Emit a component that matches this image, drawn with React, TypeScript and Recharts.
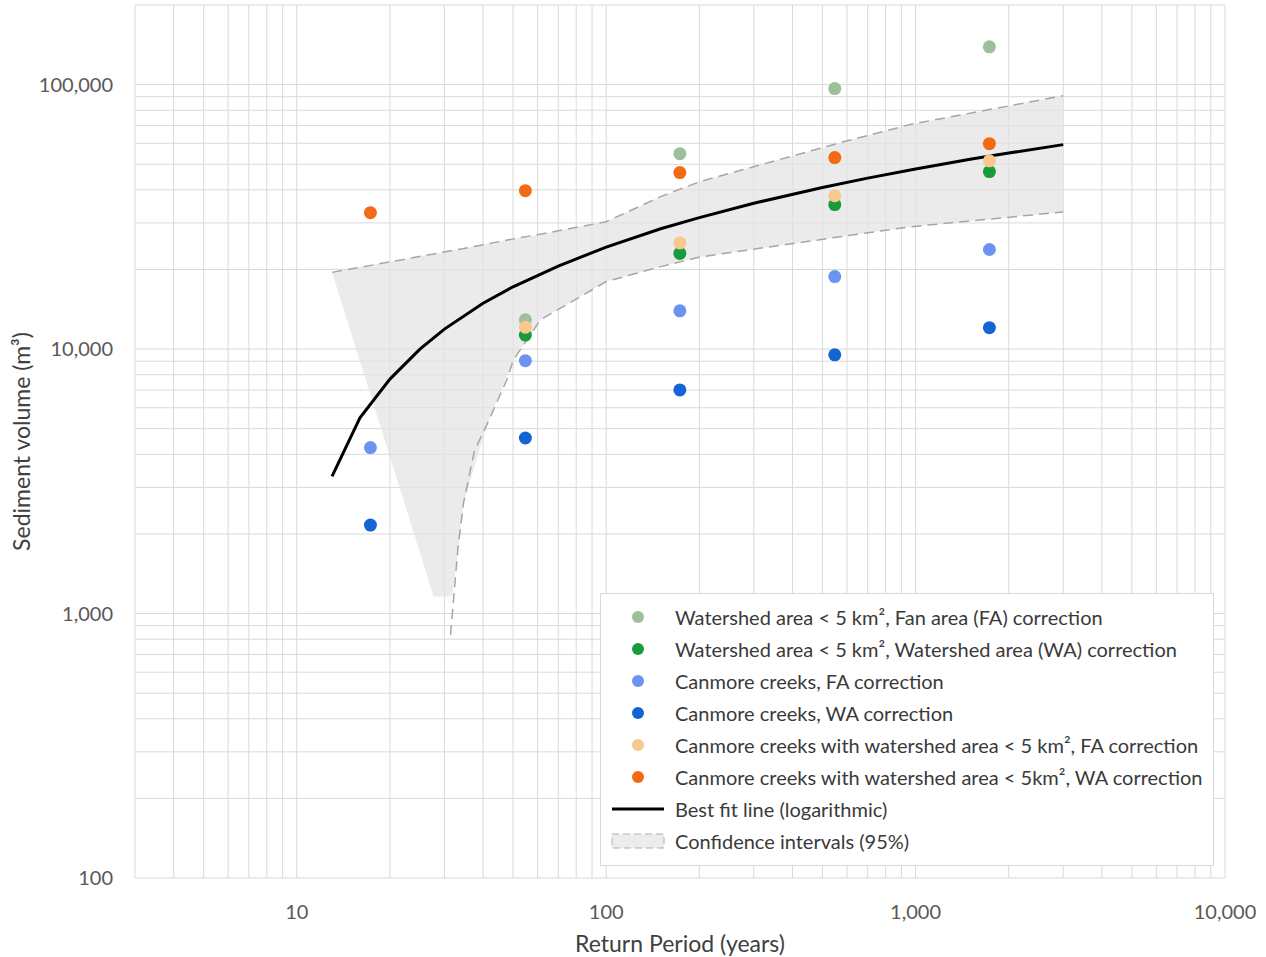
import { ComposedChart, XAxis, YAxis, CartesianGrid, Scatter, Line, Area } from 'recharts';

const FONT = 'Lato, "Open Sans", sans-serif';

// class midpoints of the return period bins (years)
const returnPeriods = [17.3, 54.8, 173, 548, 1732];

// sediment volumes (m³) per series, null where no point is plotted
const smallFanArea = [null, 12900, 54800, 96600, 139000];
const smallWatershedArea = [null, 11300, 23000, 35200, 46900];
const canmoreFanArea = [4240, 9040, 13950, 18800, 23800];
const canmoreWatershedArea = [2160, 4610, 7010, 9510, 12050];
const canmoreSmallFanArea = [null, 12100, 25200, 38000, 51500];
const canmoreSmallWatershedArea = [32800, 39700, 46500, 53000, 59800];

// best fit curve
const fitReturn = [13, 16, 20, 25, 30, 40, 50, 70, 100, 150, 200, 300, 500, 700, 1000, 1500, 2000, 3000];
const fitVolume = [3300, 5500, 7700, 10000, 11900, 14900, 17200, 20600, 24300, 28500, 31400, 35600, 40800, 44300, 48000, 52200, 55100, 59300];

// 95% confidence band
const ciReturn = [13, 27.7, 31.8, 34.6, 41.4, 50.2, 61.3, 100, 150, 201, 571, 961, 3000];
const ciUpper = [19500, 22900, 23600, 24000, 25000, 26100, 27200, 30300, 37700, 43000, 60300, 70700, 90800];
const ciFillLower = [19500, 1160, 1160, 2620, 5260, 9120, 12900, 18000, 20500, 22300, 26600, 29000, 33000];

const ciLowerReturn = [31.4, 33.2, 34.6, 37.5, 41.4, 47.6, 50.2, 61.3, 100, 150, 201, 571, 961, 3000];
const ciLowerVolume = [830, 1780, 2620, 4120, 5260, 7600, 9120, 12900, 18000, 20500, 22300, 26600, 29000, 33000];

const xMajor = [10, 100, 1000, 10000];
const yMajor = [100, 1000, 10000, 100000];

const minorTicks = (start: number, end: number) => {
  const out: number[] = [];
  for (let d = 1; d <= end; d *= 10) {
    for (let m = 1; m <= 9; m++) {
      const v = m * d;
      if (v >= start && v <= end) out.push(v);
    }
  }
  return out;
};
const xTicks = minorTicks(3, 10000);
const yTicks = minorTicks(100, 200000);

const fmt = (majors: number[]) => (v: number) => (majors.includes(v) ? v.toLocaleString('en-US') : '');

const SERIES = [
  { name: 'Watershed area < 5 km², Fan area (FA) correction', values: smallFanArea, color: '#9dbf9a' },
  { name: 'Watershed area < 5 km², Watershed area (WA) correction', values: smallWatershedArea, color: '#1a9a3c' },
  { name: 'Canmore creeks, FA correction', values: canmoreFanArea, color: '#6d93f2' },
  { name: 'Canmore creeks, WA correction', values: canmoreWatershedArea, color: '#1464d6' },
  { name: 'Canmore creeks with watershed area < 5 km², FA correction', values: canmoreSmallFanArea, color: '#f8c88e' },
  { name: 'Canmore creeks with watershed area < 5km², WA correction', values: canmoreSmallWatershedArea, color: '#f26a12' },
];

const toPoints = (xs: number[], ys: (number | null)[]) =>
  xs.map((x, i) => ({ x, y: ys[i] })).filter((p) => p.y != null);

const fitData = toPoints(fitReturn, fitVolume);
const bandData = ciReturn.map((x, i) => ({ x, band: [ciFillLower[i], ciUpper[i]], upper: ciUpper[i] }));
const lowerData = toPoints(ciLowerReturn, ciLowerVolume);

const dot = (color: string) => (p: any) => <circle cx={p.cx} cy={p.cy} r={6.5} fill={color} />;

function LegendBox() {
  const row = (i: number) => ({
    position: 'absolute' as const,
    left: 0,
    top: 7 + i * 32,
    height: 32,
    display: 'flex',
    alignItems: 'center',
    whiteSpace: 'nowrap' as const,
  });
  return (
    <div
      style={{
        position: 'absolute',
        left: 600,
        top: 593,
        width: 612,
        height: 271,
        border: '1px solid #d9d9d9',
        background: '#fff',
        fontFamily: FONT,
        fontSize: 20,
        color: '#3a3a3a',
      }}
    >
      {SERIES.map((s, i) => (
        <div key={s.name} style={row(i)}>
          <svg width={74} height={32}>
            <circle cx={37} cy={16} r={6} fill={s.color} />
          </svg>
          <span>{s.name}</span>
        </div>
      ))}
      <div style={row(6)}>
        <svg width={74} height={32}>
          <line x1={11} y1={16} x2={63} y2={16} stroke="#000" strokeWidth={3} />
        </svg>
        <span>Best fit line (logarithmic)</span>
      </div>
      <div style={row(7)}>
        <svg width={74} height={32}>
          <rect x={11} y={9} width={52} height={14} fill="#ececec" stroke="#b0b0b0" strokeDasharray="7 4" />
        </svg>
        <span>Confidence intervals (95%)</span>
      </div>
    </div>
  );
}

export default function App() {
  return (
    <div style={{ position: 'absolute', left: 0, top: 0, width: 1266, height: 957, background: '#fff' }}>
      <ComposedChart width={1266} height={957} margin={{ top: 5, right: 41, bottom: 0, left: 0 }}>
        <CartesianGrid stroke="#d9d9d9" strokeWidth={1} />
        <XAxis
          type="number"
          dataKey="x"
          scale="log"
          domain={[3, 10000]}
          allowDataOverflow
          ticks={xTicks}
          interval={0}
          tickFormatter={fmt(xMajor)}
          tickLine={false}
          axisLine={false}
          tickSize={0}
          tickMargin={27}
          height={79}
          tick={{ fill: '#595959', fontSize: 20, fontFamily: FONT }}
          label={{ value: 'Return Period (years)', position: 'insideBottom', offset: 5, fill: '#404040', fontSize: 23, fontFamily: FONT }}
        />
        <YAxis
          type="number"
          dataKey="y"
          scale="log"
          domain={[100, 200000]}
          allowDataOverflow
          ticks={yTicks}
          interval={0}
          tickFormatter={fmt(yMajor)}
          tickLine={false}
          axisLine={false}
          tickSize={0}
          tickMargin={22}
          width={135}
          tick={{ fill: '#595959', fontSize: 20, fontFamily: FONT }}
          label={{
            value: 'Sediment volume (m³)',
            angle: -90,
            position: 'insideLeft',
            offset: 22,
            fill: '#404040',
            fontSize: 23,
            fontFamily: FONT,
            style: { textAnchor: 'middle' },
          }}
        />
        <Area
          data={bandData}
          dataKey="band"
          type="linear"
          fill="#e2e2e2"
          fillOpacity={0.7}
          stroke="none"
          isAnimationActive={false}
          activeDot={false}
        />
        <Line
          data={bandData}
          dataKey="upper"
          type="linear"
          stroke="#a6a6a6"
          strokeWidth={1.5}
          strokeDasharray="10 6"
          dot={false}
          isAnimationActive={false}
        />
        <Line
          data={lowerData}
          dataKey="y"
          type="linear"
          stroke="#a6a6a6"
          strokeWidth={1.5}
          strokeDasharray="10 6"
          dot={false}
          isAnimationActive={false}
        />
        <Line
          data={fitData}
          dataKey="y"
          type="linear"
          stroke="#000"
          strokeWidth={3}
          dot={false}
          isAnimationActive={false}
        />
        {SERIES.map((s) => (
          <Scatter
            key={s.name}
            name={s.name}
            data={toPoints(returnPeriods, s.values)}
            dataKey="y"
            shape={dot(s.color)}
            isAnimationActive={false}
          />
        ))}
      </ComposedChart>
      <LegendBox />
    </div>
  );
}
